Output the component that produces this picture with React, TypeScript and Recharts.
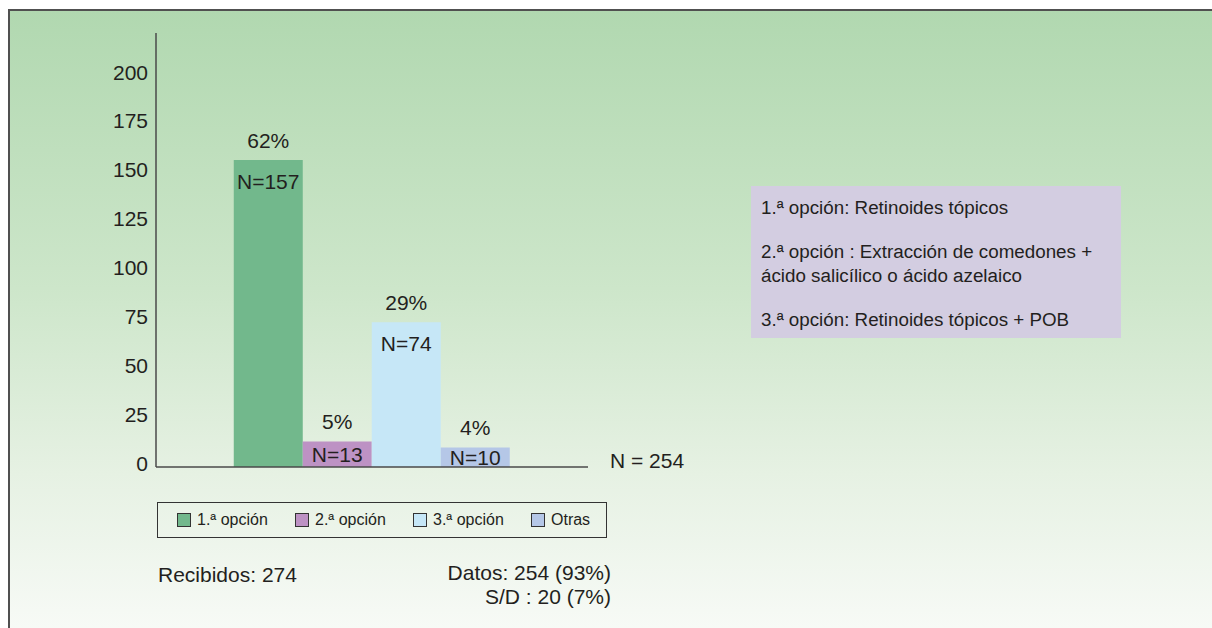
import React from 'react';
import { BarChart, Bar, XAxis, YAxis, LabelList } from 'recharts';

const categories = ['1.ª opción', '2.ª opción', '3.ª opción', 'Otras'];
const counts = [157, 13, 74, 10];
const colors = ['#72b88c', '#bd92c4', '#c6e7f7', '#b5c7e7'];
const yTicks = [0, 25, 50, 75, 100, 125, 150, 175, 200];
const sinDatos = 20;
const notes = [
  ['1.ª opción: Retinoides tópicos'],
  ['2.ª opción : Extracción de comedones +', 'ácido salicílico o ácido azelaico'],
  ['3.ª opción: Retinoides tópicos + POB'],
];

const FONT = '"Liberation Sans", Arial, Helvetica, sans-serif';
const INK = '#231f20';
const FS = 21;

const total = counts.reduce((a, b) => a + b, 0);
const recibidos = total + sinDatos;
const pct = (v: number, of: number) => `${Math.round((v / of) * 100)}%`;

// one row, one series per option so the bars sit side by side
const keys = categories.map((_, i) => `s${i}`);
const row: Record<string, number | string> = { name: '' };
keys.forEach((k, i) => {
  row[k] = counts[i];
});
const rows = [row];

const YTick = (props: any) => {
  const { x, y, payload } = props;
  return (
    <text x={x} y={y - 4} textAnchor='end' dominantBaseline='central' fontSize={FS} fill={INK} fontFamily={FONT}>
      {payload.value}
    </text>
  );
};

const BarLabels = (props: any) => {
  const { x, y, width, height, value } = props;
  const cx = Number(x) + Number(width) / 2;
  const top = Number(y);
  const inner = top + Math.min(21, Number(height) / 2);
  return (
    <g fontFamily={FONT} fontSize={FS} fill={INK}>
      <text x={cx} y={top - 20} textAnchor='middle' dominantBaseline='central'>
        {pct(Number(value), total)}
      </text>
      <text x={cx} y={inner} textAnchor='middle' dominantBaseline='central'>
        {`N=${value}`}
      </text>
    </g>
  );
};

const text = (extra: React.CSSProperties): React.CSSProperties => ({
  position: 'absolute',
  fontFamily: FONT,
  color: INK,
  whiteSpace: 'nowrap',
  ...extra,
});

export default function App() {
  return (
    <div style={{ position: 'fixed', left: 0, top: 0, width: 1212, height: 628, overflow: 'hidden' }}>
      <div
        style={{
          position: 'absolute',
          left: 8,
          top: 9,
          right: 0,
          bottom: 0,
          borderTop: '2px solid #505050',
          borderLeft: '2px solid #505050',
          background: 'linear-gradient(to bottom, #b1d8b0 0%, #cde6ca 45%, #e6f1e3 75%, #f7faf6 100%)',
        }}
      />

      <div style={{ position: 'absolute', left: 0, top: 0 }}>
        <BarChart
          width={1212}
          height={628}
          data={rows}
          margin={{ top: 33, right: 624, bottom: 131, left: 96 }}
          barCategoryGap='18%'
          barGap={0}
        >
          <XAxis dataKey='name' tick={false} tickLine={false} height={30} axisLine={{ stroke: '#4a4a4a', strokeWidth: 1.5 }} />
          <YAxis
            width={60}
            domain={[0, 222]}
            ticks={yTicks}
            interval={0}
            tickLine={false}
            tick={<YTick />}
            axisLine={{ stroke: '#4a4a4a', strokeWidth: 1.5 }}
          />
          {keys.map((k, i) => (
            <Bar key={k} dataKey={k} name={categories[i]} fill={colors[i]} isAnimationActive={false}>
              <LabelList dataKey={k} content={<BarLabels />} />
            </Bar>
          ))}
        </BarChart>
      </div>

      <div style={text({ left: 610, top: 449, fontSize: FS, lineHeight: '24px' })}>N = {total}</div>

      {/* legend */}
      <div
        style={{
          position: 'absolute',
          left: 157,
          top: 502,
          width: 448,
          height: 34,
          border: '1px solid #333',
        }}
      >
        {categories.map((c, i) => (
          <div key={c} style={text({ left: 19 + i * 118, top: 0, height: 34, display: 'flex', alignItems: 'center', fontSize: 16 })}>
            <span
              style={{
                display: 'inline-block',
                width: 12,
                height: 12,
                background: colors[i],
                border: '1px solid #333',
                marginRight: 6,
              }}
            />
            {c}
          </div>
        ))}
      </div>

      <div style={text({ left: 158, top: 563, fontSize: FS, lineHeight: '24px' })}>Recibidos: {recibidos}</div>
      <div style={text({ right: 1212 - 611, top: 561, fontSize: FS, lineHeight: '24px', textAlign: 'right' })}>
        Datos: {total} ({pct(total, recibidos)})
        <br />
        S/D : {sinDatos} ({pct(sinDatos, recibidos)})
      </div>

      {/* notes box */}
      <div
        style={{
          position: 'absolute',
          left: 751,
          top: 186,
          width: 370,
          height: 152,
          background: '#d3cde1',
        }}
      >
        {notes.map((lines, i) => (
          <div key={i} style={{ position: 'relative', marginTop: i === 0 ? 10 : 20 }}>
            {lines.map((l) => (
              <div key={l} style={{ fontFamily: FONT, color: INK, fontSize: 18.8, lineHeight: '24px', paddingLeft: 10, whiteSpace: 'nowrap' }}>
                {l}
              </div>
            ))}
          </div>
        ))}
      </div>
    </div>
  );
}
